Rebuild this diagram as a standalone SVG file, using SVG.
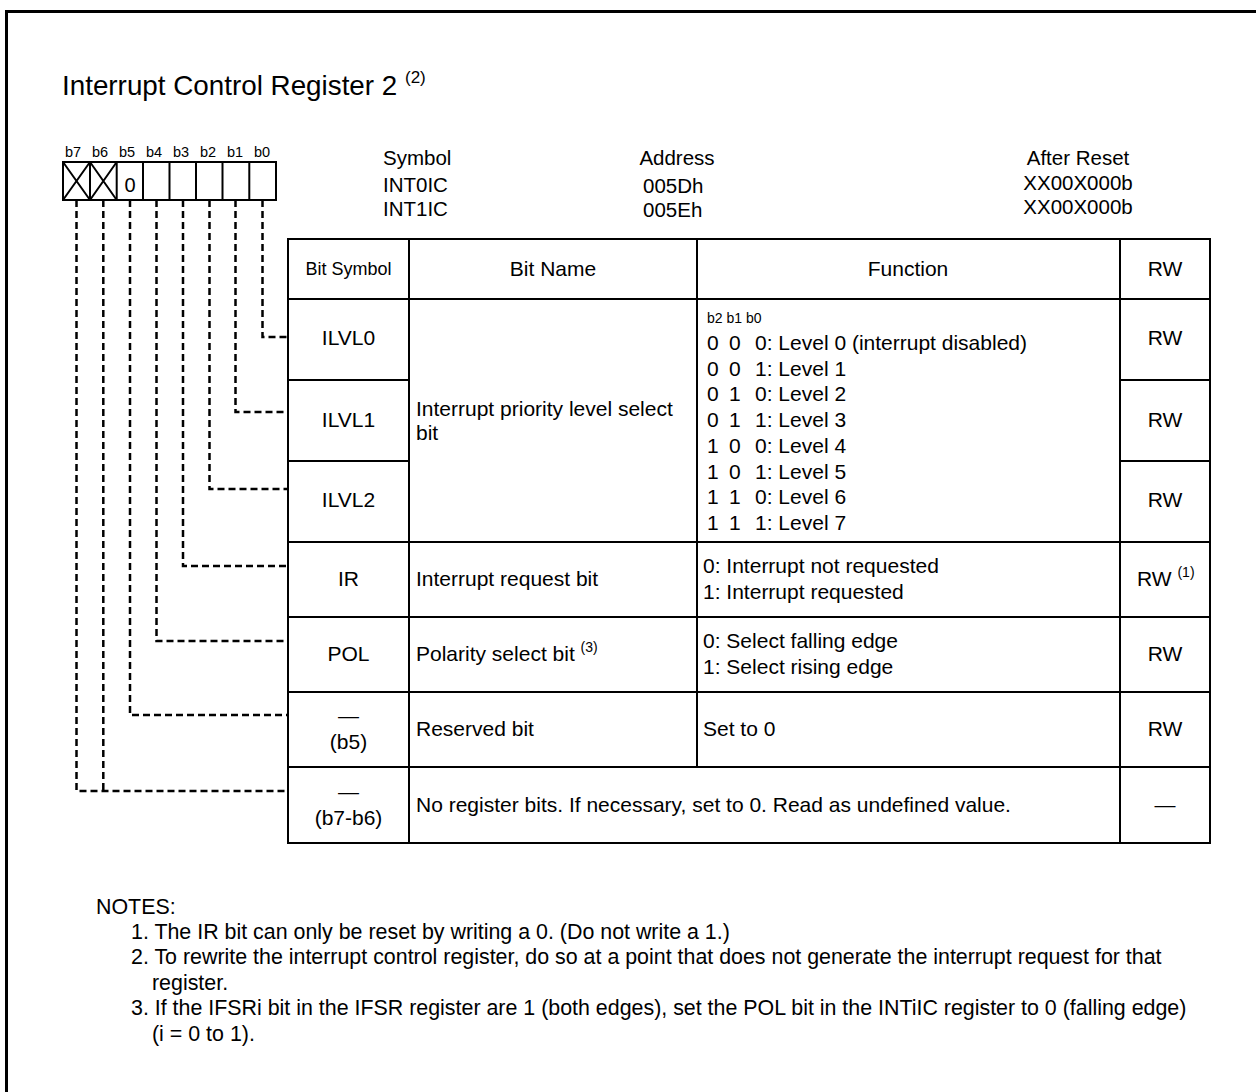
<svg xmlns="http://www.w3.org/2000/svg" width="1256" height="1092" viewBox="0 0 1256 1092">
<style>
text{font-family:"Liberation Sans",Arial,Helvetica,sans-serif;fill:#000}
.t{font-size:21px}
.h{font-size:20.5px}
.n{font-size:21.4px}
.ln{stroke:#000;stroke-width:2;fill:none}
.dash{stroke:#000;stroke-width:2.5;fill:none;stroke-dasharray:7 4}
</style>
<rect width="1256" height="1092" fill="#fff"/>
<path d="M6.5 1092V11.5H1256" stroke="#000" stroke-width="3" fill="none"/>

<g id="title">
<text x="62" y="95" font-size="27.8">Interrupt Control Register 2 <tspan font-size="17" dy="-12">(2)</tspan></text>
</g>

<g id="bitfield">
<g font-size="14.5">
<text x="73" y="157" text-anchor="middle">b7</text>
<text x="100" y="157" text-anchor="middle">b6</text>
<text x="127" y="157" text-anchor="middle">b5</text>
<text x="154" y="157" text-anchor="middle">b4</text>
<text x="181" y="157" text-anchor="middle">b3</text>
<text x="208" y="157" text-anchor="middle">b2</text>
<text x="235" y="157" text-anchor="middle">b1</text>
<text x="262" y="157" text-anchor="middle">b0</text>
</g>
<rect x="63" y="162" width="213" height="38" class="ln"/>
<path class="ln" d="M90 162V200M116.7 162V200M143 162V200M169.5 162V200M196 162V200M222.5 162V200M249.3 162V200"/>
<path class="ln" stroke-width="1.5" d="M63 162L90 200M90 162L63 200M90 162L116.7 200M116.7 162L90 200"/>
<text x="130" y="192" font-size="20" text-anchor="middle">0</text>
</g>

<g id="register-info" class="h">
<text x="383" y="165">Symbol</text>
<text x="383" y="192">INT0IC</text>
<text x="383" y="216">INT1IC</text>
<text x="677" y="165" text-anchor="middle">Address</text>
<text x="643" y="193">005Dh</text>
<text x="643" y="217">005Eh</text>
<text x="1078" y="165" text-anchor="middle">After Reset</text>
<text x="1078" y="190" text-anchor="middle">XX00X000b</text>
<text x="1078" y="214" text-anchor="middle">XX00X000b</text>
</g>

<g id="connectors">
<path class="dash" d="M262.5 200V337H288"/>
<path class="dash" d="M235.5 200V412H288"/>
<path class="dash" d="M209.5 200V489H288"/>
<path class="dash" d="M183 200V566H288"/>
<path class="dash" d="M156.5 200V641H288"/>
<path class="dash" d="M130 200V715H288"/>
<path class="dash" d="M103.3 200V791"/>
<path class="dash" d="M76.5 200V791H288"/>
</g>

<g id="table">
<rect x="288" y="239" width="922" height="604" class="ln"/>
<path class="ln" d="M409 239V843M697 239V767M1120 239V843M288 299H1210M288 380H409M1120 380H1210M288 461H409M1120 461H1210M288 542H1210M288 617H1210M288 692H1210M288 767H1210"/>
</g>

<g id="row-header" class="t">
<text x="348.5" y="275" font-size="18" text-anchor="middle">Bit Symbol</text>
<text x="553" y="276" text-anchor="middle">Bit Name</text>
<text x="908" y="276" text-anchor="middle">Function</text>
<text x="1165" y="276" text-anchor="middle">RW</text>
</g>

<g id="row-ilvl" class="t">
<text x="348.5" y="345" text-anchor="middle">ILVL0</text>
<text x="348.5" y="427" text-anchor="middle">ILVL1</text>
<text x="348.5" y="507" text-anchor="middle">ILVL2</text>
<text x="416" y="416">Interrupt priority level select</text>
<text x="416" y="440">bit</text>
<text x="707" y="323" font-size="14">b2 b1 b0</text>
<text y="350"><tspan x="707">0</tspan><tspan x="729">0</tspan><tspan x="755">0: Level 0 (interrupt disabled)</tspan></text>
<text y="376"><tspan x="707">0</tspan><tspan x="729">0</tspan><tspan x="755">1: Level 1</tspan></text>
<text y="401"><tspan x="707">0</tspan><tspan x="729">1</tspan><tspan x="755">0: Level 2</tspan></text>
<text y="427"><tspan x="707">0</tspan><tspan x="729">1</tspan><tspan x="755">1: Level 3</tspan></text>
<text y="453"><tspan x="707">1</tspan><tspan x="729">0</tspan><tspan x="755">0: Level 4</tspan></text>
<text y="479"><tspan x="707">1</tspan><tspan x="729">0</tspan><tspan x="755">1: Level 5</tspan></text>
<text y="504"><tspan x="707">1</tspan><tspan x="729">1</tspan><tspan x="755">0: Level 6</tspan></text>
<text y="530"><tspan x="707">1</tspan><tspan x="729">1</tspan><tspan x="755">1: Level 7</tspan></text>
<text x="1165" y="345" text-anchor="middle">RW</text>
<text x="1165" y="427" text-anchor="middle">RW</text>
<text x="1165" y="507" text-anchor="middle">RW</text>
</g>

<g id="row-ir" class="t">
<text x="348.5" y="586" text-anchor="middle">IR</text>
<text x="416" y="586">Interrupt request bit</text>
<text x="703" y="573">0: Interrupt not requested</text>
<text x="703" y="599">1: Interrupt requested</text>
<text x="1137" y="586">RW <tspan font-size="14" dy="-9">(1)</tspan></text>
</g>

<g id="row-pol" class="t">
<text x="348.5" y="661" text-anchor="middle">POL</text>
<text x="416" y="661">Polarity select bit <tspan font-size="14" dy="-9">(3)</tspan></text>
<text x="703" y="648">0: Select falling edge</text>
<text x="703" y="674">1: Select rising edge</text>
<text x="1165" y="661" text-anchor="middle">RW</text>
</g>

<g id="row-b5" class="t">
<text x="348.5" y="723" text-anchor="middle">—</text>
<text x="348.5" y="749" text-anchor="middle">(b5)</text>
<text x="416" y="736">Reserved bit</text>
<text x="703" y="736">Set to 0</text>
<text x="1165" y="736" text-anchor="middle">RW</text>
</g>

<g id="row-b7b6" class="t">
<text x="348.5" y="799" text-anchor="middle">—</text>
<text x="348.5" y="825" text-anchor="middle">(b7-b6)</text>
<text x="416" y="812">No register bits. If necessary, set to 0. Read as undefined value.</text>
<text x="1165" y="812" text-anchor="middle">—</text>
</g>

<g id="notes" class="n">
<text x="96" y="914">NOTES:</text>
<text x="131" y="939">1. The IR bit can only be reset by writing a 0. (Do not write a 1.)</text>
<text x="131" y="964">2. To rewrite the interrupt control register, do so at a point that does not generate the interrupt request for that</text>
<text x="152" y="990">register.</text>
<text x="131" y="1015">3. If the IFSRi bit in the IFSR register are 1 (both edges), set the POL bit in the INTiIC register to 0 (falling edge)</text>
<text x="152" y="1041">(i = 0 to 1).</text>
</g>
</svg>
